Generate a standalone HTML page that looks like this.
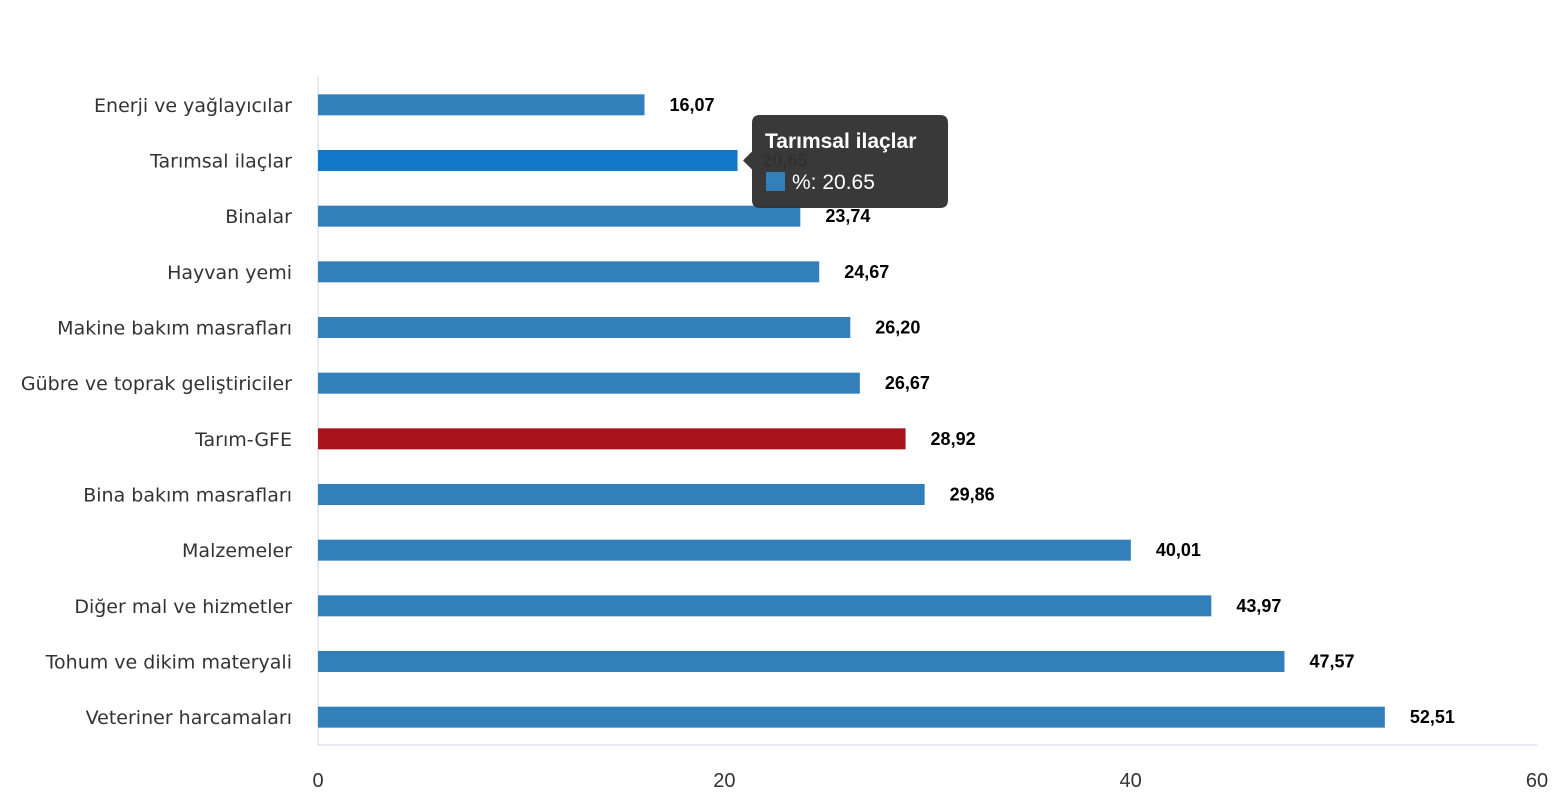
<!DOCTYPE html>
<html><head><meta charset="utf-8">
<style>
body{margin:0;background:#fff;width:1556px;height:800px;overflow:hidden;font-family:"Liberation Sans",sans-serif;}
svg{display:block}
</style></head>
<body>
<svg id="chart" width="1556" height="800" xmlns="http://www.w3.org/2000/svg"></svg>
<script>
const categories=["Enerji  ve yağlayıcılar","Tarımsal ilaçlar","Binalar","Hayvan yemi","Makine bakım masrafları","Gübre ve toprak geliştiriciler","Tarım-GFE","Bina bakım masrafları","Malzemeler","Diğer mal ve hizmetler","Tohum ve dikim materyali","Veteriner harcamaları"];
const values=[16.07,20.65,23.74,24.67,26.20,26.67,28.92,29.86,40.01,43.97,47.57,52.51];
const valueLabels=["16,07","20,65","23,74","24,67","26,20","26,67","28,92","29,86","40,01","43,97","47,57","52,51"];
const xTicks=[0,20,40,60];
const NS="http://www.w3.org/2000/svg";
const svg=document.getElementById('chart');
const x0=318,x1=1537,yTop=77,yBot=745;
const xScale=v=>x0+(v/60)*(x1-x0);
const step=(yBot-yTop)/categories.length;
const yCenter=i=>yTop+step*(i+0.5);
function mk(t,a){const e=document.createElementNS(NS,t);for(const k in a)e.setAttribute(k,a[k]);svg.appendChild(e);return e;}
let ax=mk('line',{x1:x0,y1:yTop,x2:x0,y2:yBot,stroke:'#ccd6eb','stroke-width':1});


let bx=mk('line',{x1:x0,y1:yBot,x2:x1,y2:yBot,stroke:'#ccd6eb','stroke-width':1});


xTicks.forEach(t=>{
  const e=mk('text',{x:xScale(t),y:787,'text-anchor':'middle','font-size':20,fill:'#333'});
  e.textContent=t;
  
  
});
categories.forEach((c,i)=>{
  const yc=yCenter(i);
  const l=mk('text',{x:292,y:yc+7,'text-anchor':'end','font-size':20,fill:'#333','font-family':'"DejaVu Sans","Liberation Sans",sans-serif','font-size':19});
  l.textContent=c;
  
  
  let col='#337fba';
  if(c==='Tarım-GFE')col='#a8141c';
  if(i===1)col='#1177c6';
  const b=mk('rect',{x:x0,y:yc-10.5,width:xScale(values[i])-x0,height:21,fill:col});
  
  
  const v=mk('text',{x:xScale(values[i])+25,y:yc+6,'font-size':18,'font-weight':'bold',fill:'#000'});
  v.textContent=valueLabels[i];
  
  
});
// tooltip
const ty=yCenter(1);
const tg=document.createElementNS(NS,'g');svg.appendChild(tg);


const p=document.createElementNS(NS,'path');
p.setAttribute('d',`M760 115 H940 Q948 115 948 123 V200 Q948 208 940 208 H760 Q752 208 752 200 V${ty+9} L743 ${ty} L752 ${ty-9} V123 Q752 115 760 115 Z`);
p.setAttribute('fill','#333');p.setAttribute('fill-opacity','0.97');tg.appendChild(p);
const t1=document.createElementNS(NS,'text');t1.setAttribute('x',765);t1.setAttribute('y',148);t1.setAttribute('font-size',21);t1.setAttribute('font-weight','bold');t1.setAttribute('fill','#fff');t1.textContent='Tarımsal ilaçlar';tg.appendChild(t1);
const sq=document.createElementNS(NS,'rect');sq.setAttribute('x',766);sq.setAttribute('y',172);sq.setAttribute('width',19);sq.setAttribute('height',19);sq.setAttribute('fill','#337fba');tg.appendChild(sq);
const t2=document.createElementNS(NS,'text');t2.setAttribute('x',792);t2.setAttribute('y',189);t2.setAttribute('font-size',21);t2.setAttribute('fill','#fff');t2.textContent='%: '+values[1].toFixed(2);tg.appendChild(t2);
</script>
</body></html>
